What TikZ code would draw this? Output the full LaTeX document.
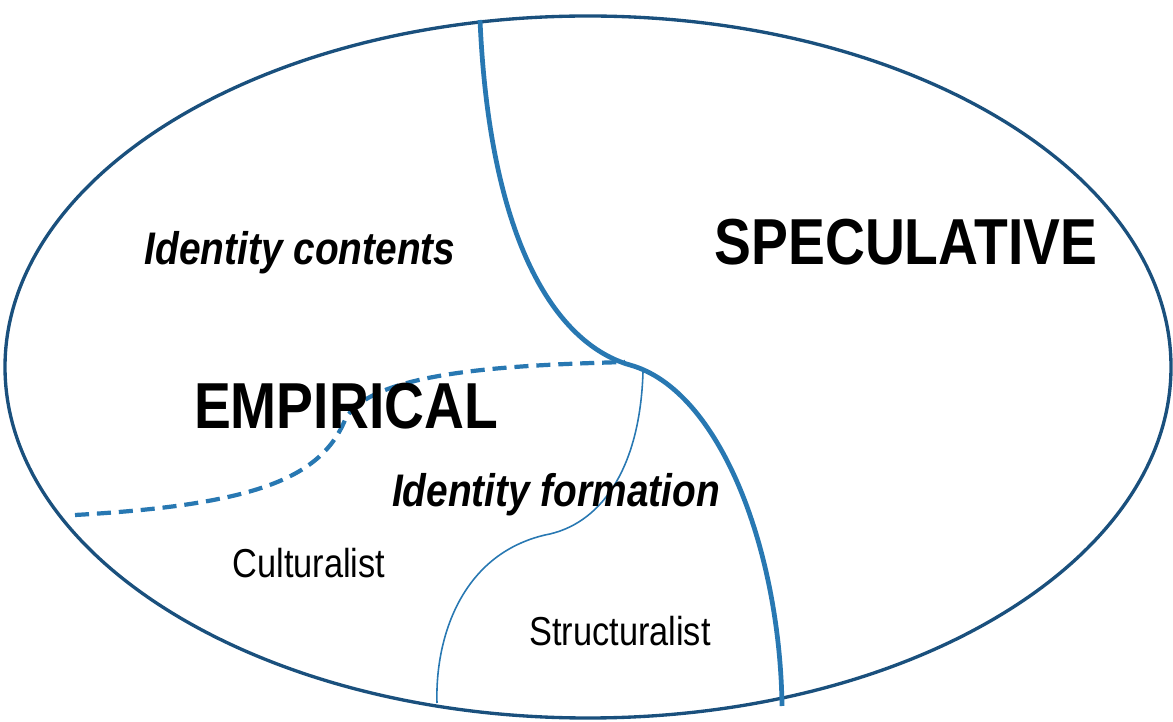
\documentclass[tikz,border=0pt]{standalone}
\usepackage{fontspec}
\setmainfont{Liberation Sans}
\newfontfamily\narrowsans[FakeStretch=0.85]{Liberation Sans}
\usepackage{tikz}
\usetikzlibrary{positioning}

\definecolor{rimblue}{RGB}{26,80,125}
\definecolor{lineblue}{RGB}{40,120,178}

\begin{document}
\begin{tikzpicture}[x=0.02cm,y=-0.02cm,
        bigword/.style={anchor=base,font=\narrowsans\fontsize{37}{37}\selectfont\bfseries},
        areaword/.style={anchor=base,font=\narrowsans\fontsize{26}{26}\selectfont\bfseries\itshape},
        subword/.style={anchor=base,font=\narrowsans\fontsize{23}{23}\selectfont}]
        \useasboundingbox (0,0) rectangle (1173,722);
        % outer ellipse
        \draw[rimblue,line width=1.9pt] (588,367) ellipse [x radius=583, y radius=351];

        % border speculative / empirical
        \draw[lineblue,line width=2.7pt] (480,20) .. controls (490,250) and (560,345) .. (630,365)
            .. controls (720,390) and (780,550) .. (782,706);
        % border identity contents / identity formation
        \draw[lineblue,line width=2.4pt,dash pattern=on 8pt off 4.5pt] (75,515) .. controls (250,505) and (320,480) .. (345,420)
            .. controls (370,370) and (520,365) .. (625,362);
        % border culturalist / structuralist
        \draw[lineblue,line width=0.9pt] (643,372) .. controls (640,470) and (600,525) .. (545,535)
            .. controls (460,555) and (435,640) .. (437,703);

        \node[areaword] (contents) at (300,265) {Identity contents};
        \node[bigword] (spec) at (906,265) {SPECULATIVE};
        \node[bigword] (emp) at (346,429) {EMPIRICAL};
        \node[areaword] (formation) at (556,507) {Identity formation};
        \node[subword] (cult) at (309,578) {Culturalist};
        \node[subword] (struct) at (620,645) {Structuralist};
    \end{tikzpicture}
\end{document}
